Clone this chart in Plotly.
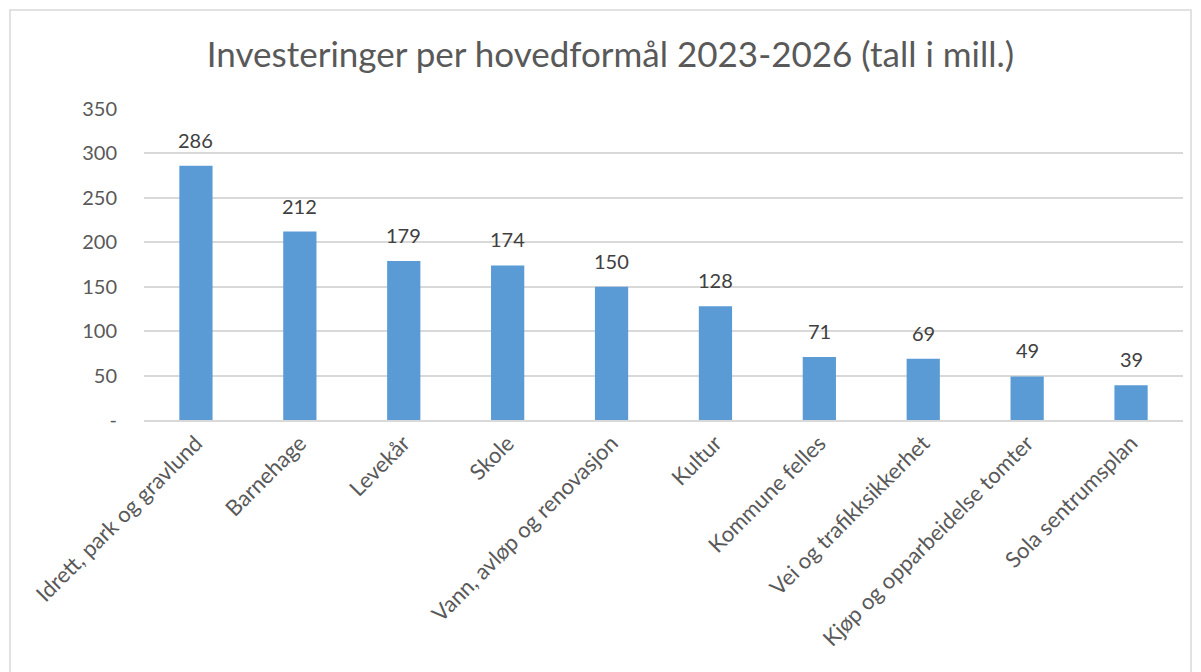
import plotly.graph_objects as go

# Data
categories = [
    "Idrett, park og gravlund",
    "Barnehage",
    "Levekår",
    "Skole",
    "Vann, avløp og renovasjon",
    "Kultur",
    "Kommune felles",
    "Vei og trafikksikkerhet",
    "Kjøp og opparbeidelse tomter",
    "Sola sentrumsplan",
]
values = [286, 212, 179, 174, 150, 128, 71, 69, 49, 39]
y_tick_vals = [0, 50, 100, 150, 200, 250, 300, 350]
y_tick_text = ["-", "50", "100", "150", "200", "250", "300", "350"]

font_family = "Lato, Open Sans, sans-serif"

fig = go.Figure()
fig.add_trace(go.Bar(
    x=categories,
    y=values,
    marker=dict(color="#5B9BD5", line=dict(width=0)),
))

# Data labels sit a bit above each bar, like in Excel
for cat, val in zip(categories, values):
    fig.add_annotation(
        x=cat, y=val, text=str(val), showarrow=False,
        yanchor="bottom", yshift=12,
        font=dict(size=20, color="#404040", family=font_family),
    )

# Outer chart border
fig.add_shape(type="rect", xref="paper", yref="paper",
              x0=-0.129, x1=1.0077, y0=-0.85, y1=1.318,
              line=dict(color="#D9D9D9", width=1.5), layer="below")

fig.update_layout(
    width=1193,
    height=664,
    paper_bgcolor="white",
    plot_bgcolor="white",
    margin=dict(l=136, r=18, t=101, b=252, autoexpand=False),
    bargap=0.68,
    showlegend=False,
    title=dict(
        text="Investeringer per hovedformål 2023-2026 (tall i mill.)",
        x=0.505, xanchor="center", y=0.929, yanchor="middle",
        font=dict(size=35, color="#595959", family=font_family),
    ),
    xaxis=dict(
        tickangle=-45,
        tickfont=dict(size=22, color="#595959", family=font_family),
        showline=True, linecolor="#D9D9D9", linewidth=1.5,
        showgrid=False, ticks="",
    ),
    yaxis=dict(
        range=[0, 350],
        tickvals=y_tick_vals,
        ticktext=y_tick_text,
        tickfont=dict(size=20, color="#595959", family=font_family),
        showgrid=True, gridcolor="#D9D9D9", gridwidth=1.5,
        zeroline=False, ticks="", ticklabelstandoff=26,
    ),
)

fig.write_html("out.html")
